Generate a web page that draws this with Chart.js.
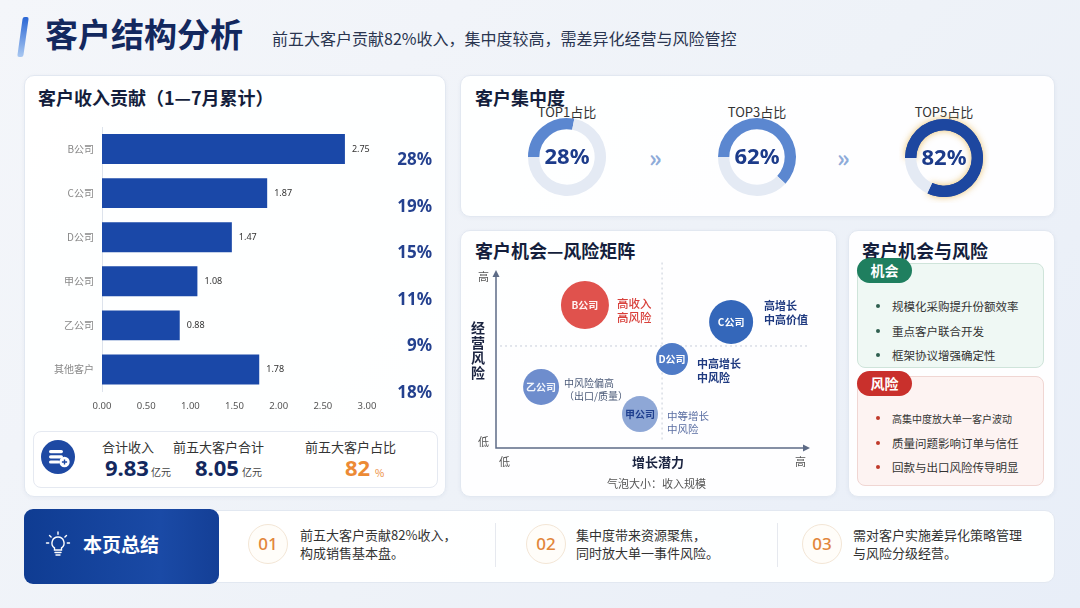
<!DOCTYPE html>
<html><head><meta charset="utf-8">
<script src="https://cdn.jsdelivr.net/npm/chart.js@4.4.0/dist/chart.umd.min.js"></script>
<style>
*{margin:0;padding:0;box-sizing:border-box}
body{width:1080px;height:608px;overflow:hidden;font-family:"Noto Sans CJK SC","Noto Sans",sans-serif;background:linear-gradient(135deg,#f4f6fa 0%,#eef2f8 55%,#e8eef8 100%);position:relative;color:#222}
.a{position:absolute;white-space:nowrap;line-height:1}
.card{position:absolute;background:rgba(255,255,255,0.93);border:1px solid #e2e8f1;border-radius:10px;box-shadow:0 1px 4px rgba(30,60,120,0.05)}
.ctitle{position:absolute;font-size:18px;font-weight:700;color:#141e3c;line-height:18px;white-space:nowrap}
canvas{position:absolute}
.lbl{position:absolute;font-size:13px;color:#333;line-height:16px;text-align:center;width:100px}
.badge{position:absolute;width:55px;height:25px;border-radius:13px;color:#fff;font-weight:700;font-size:14px;line-height:25px;text-align:center}
.item{position:absolute;left:892px;font-size:11.5px;color:#333;line-height:14px;white-space:nowrap}
.dot{position:absolute;left:876px;width:4px;height:4px;border-radius:2px}
.num{position:absolute;width:40px;height:40px;border-radius:20px;border:1px solid #f3e6d6;background:#fffdf9;color:#e2863a;font-size:17px;font-weight:500;line-height:38px;text-align:center;font-family:"Noto Sans","DejaVu Sans",sans-serif}
.sumtxt{position:absolute;font-size:13px;color:#333;line-height:18px;white-space:nowrap}
</style></head>
<body>
<div class="a" style="left:20px;top:17px;width:6px;height:40px;transform:skewX(-8deg);background:linear-gradient(180deg,#2a66d4,#a9c8f1);border-radius:2px"></div>
<div class="a" style="left:45px;top:13px;font-size:33px;font-weight:700;color:#13285e;line-height:40px">客户结构分析</div>
<div class="a" style="left:272px;top:28px;font-size:16px;color:#2a3550;line-height:20px">前五大客户贡献82%收入，集中度较高，需差异化经营与风险管控</div>

<!-- Card 1 -->
<div class="card" style="left:24px;top:75px;width:422px;height:422px"></div>
<div class="ctitle" style="left:38px;top:88px">客户收入贡献（1—7月累计）</div>
<canvas id="barChart" width="360" height="303" style="left:30px;top:113px;width:360px;height:303px"></canvas>
<div id="shareBox"></div>
<div class="a" style="left:33px;top:431px;width:405px;height:57px;border:1px solid #e5e9f1;border-radius:8px;background:#fff"></div>
<svg class="a" style="left:41px;top:440px" width="34" height="34" viewBox="0 0 34 34">
<circle cx="17" cy="17" r="17" fill="#1e49a3"/>
<rect x="8" y="10" width="14" height="3.2" rx="1.6" fill="#fff"/>
<rect x="8" y="15.2" width="14" height="3.2" rx="1.6" fill="#fff"/>
<rect x="8" y="20.4" width="11" height="3.2" rx="1.6" fill="#fff"/>
<circle cx="23.5" cy="22" r="5.2" fill="#fff"/>
<path d="M23.5 19.4v5.2M20.9 22h5.2" stroke="#1e49a3" stroke-width="1.4"/>
</svg>
<div class="a" style="left:102px;top:439px;font-size:13px;color:#333;line-height:15px">合计收入</div>
<div class="a" style="left:105px;top:455px;font-size:22px;font-weight:700;color:#13285e;line-height:24px;font-family:'Noto Sans','DejaVu Sans',sans-serif">9.83</div>
<div class="a" style="left:151px;top:466px;font-size:10px;color:#444;line-height:12px">亿元</div>
<div class="a" style="left:173px;top:439px;font-size:13px;color:#333;line-height:15px">前五大客户合计</div>
<div class="a" style="left:195px;top:455px;font-size:22px;font-weight:700;color:#13285e;line-height:24px;font-family:'Noto Sans','DejaVu Sans',sans-serif">8.05</div>
<div class="a" style="left:242px;top:466px;font-size:10px;color:#444;line-height:12px">亿元</div>
<div class="a" style="left:305px;top:439px;font-size:13px;color:#333;line-height:15px">前五大客户占比</div>
<div class="a" style="left:345px;top:455px;font-size:22px;font-weight:700;color:#ec8a35;line-height:24px;font-family:'Noto Sans','DejaVu Sans',sans-serif">82</div>
<div class="a" style="left:375px;top:467px;font-size:10px;color:#ec8a35;line-height:12px">%</div>

<!-- Card 2 -->
<div class="card" style="left:460px;top:75px;width:595px;height:142px"></div>
<div class="ctitle" style="left:475px;top:88px">客户集中度</div>
<div id="donutBox"></div>
<div class="a" style="left:649px;top:144px;font-size:24px;font-weight:700;color:#8eabd9;line-height:26px">»</div>
<div class="a" style="left:837px;top:144px;font-size:24px;font-weight:700;color:#8eabd9;line-height:26px">»</div>

<!-- Card 3 -->
<div class="card" style="left:460px;top:230px;width:377px;height:267px"></div>
<div class="ctitle" style="left:475px;top:241px">客户机会—风险矩阵</div>
<canvas id="bubbleChart" width="359" height="223" style="left:472px;top:249px;width:359px;height:223px"></canvas>
<div class="a" style="left:478px;top:271px;font-size:11px;color:#555">高</div>
<div class="a" style="left:478px;top:436px;font-size:11px;color:#555">低</div>
<div class="a" style="left:471px;top:320px;width:16px;font-size:14px;font-weight:700;color:#1a2340;line-height:15px;white-space:normal">经营风险</div>
<div class="a" style="left:499px;top:456px;font-size:11px;color:#555">低</div>
<div class="a" style="left:632px;top:455px;font-size:13px;font-weight:700;color:#1a2340">增长潜力</div>
<div class="a" style="left:795px;top:456px;font-size:11px;color:#555">高</div>
<div class="a" style="left:607px;top:478px;font-size:11px;color:#555">气泡大小：收入规模</div>
<div class="a" style="left:617px;top:296px;font-size:11.5px;color:#d8403b;line-height:14px;font-weight:500">高收入<br>高风险</div>
<div class="a" style="left:764px;top:298px;font-size:11px;color:#1f3a80;line-height:14px;font-weight:700">高增长<br>中高价值</div>
<div class="a" style="left:697px;top:356px;font-size:11px;color:#1f3a80;line-height:14px;font-weight:700">中高增长<br>中风险</div>
<div class="a" style="left:564px;top:376px;font-size:10px;color:#4b5a78;line-height:13px">中风险偏高<br>（出口/质量）</div>
<div class="a" style="left:667px;top:409px;font-size:10.5px;color:#5b6fa3;line-height:13px">中等增长<br>中风险</div>

<!-- Card 4 -->
<div class="card" style="left:848px;top:230px;width:207px;height:267px"></div>
<div class="ctitle" style="left:862px;top:241px">客户机会与风险</div>
<div class="a" style="left:857px;top:263px;width:187px;height:105px;background:#eff8f4;border:1px solid #cfe4da;border-radius:8px"></div>
<div class="badge" style="left:857px;top:258px;background:#1f7f5f">机会</div>
<div class="dot" style="top:304px;background:#2f5f4f"></div><div class="item" style="top:299px">规模化采购提升份额效率</div>
<div class="dot" style="top:329px;background:#2f5f4f"></div><div class="item" style="top:324px">重点客户联合开发</div>
<div class="dot" style="top:353px;background:#2f5f4f"></div><div class="item" style="top:348px">框架协议增强确定性</div>
<div class="a" style="left:857px;top:376px;width:187px;height:110px;background:#fdf3f2;border:1px solid #f0d6d3;border-radius:8px"></div>
<div class="badge" style="left:857px;top:371px;background:#c9302c">风险</div>
<div class="dot" style="top:416px;background:#c0392b"></div><div class="item" style="top:412px;font-size:10px">高集中度放大单一客户波动</div>
<div class="dot" style="top:441px;background:#c0392b"></div><div class="item" style="top:436px">质量问题影响订单与信任</div>
<div class="dot" style="top:465px;background:#c0392b"></div><div class="item" style="top:460px">回款与出口风险传导明显</div>

<!-- Bottom -->
<div class="a" style="left:24px;top:510px;width:1031px;height:73px;background:rgba(255,255,255,0.95);border:1px solid #e2e8f1;border-radius:10px"></div>
<div class="a" style="left:24px;top:509px;width:195px;height:75px;border-radius:9px;background:linear-gradient(90deg,#0f3c92,#1a4aa6 70%,#143f96)"></div>
<svg class="a" style="left:44px;top:530px" width="28" height="28" viewBox="0 0 28 28" fill="none" stroke="#fff" stroke-width="1.4" stroke-linecap="round">
<path d="M14 7a6 6 0 0 0-3.5 10.9V20h7v-2.1A6 6 0 0 0 14 7z"/>
<path d="M11 22.5h6M12 25h4"/>
<path d="M14 2v2.2M5.5 5.5l1.6 1.6M22.5 5.5l-1.6 1.6M2.5 13h2.2M23.3 13h2.2"/>
</svg>
<div class="a" style="left:83px;top:534px;font-size:19px;font-weight:700;color:#fff;line-height:20px">本页总结</div>
<div class="num" style="left:248px;top:524px">01</div>
<div class="sumtxt" style="left:300px;top:526px">前五大客户贡献82%收入，<br>构成销售基本盘。</div>
<div class="a" style="left:495px;top:523px;width:1px;height:44px;background:#e6e9ef"></div>
<div class="num" style="left:526px;top:524px">02</div>
<div class="sumtxt" style="left:576px;top:526px">集中度带来资源聚焦，<br>同时放大单一事件风险。</div>
<div class="a" style="left:777px;top:523px;width:1px;height:44px;background:#e6e9ef"></div>
<div class="num" style="left:802px;top:524px">03</div>
<div class="sumtxt" style="left:853px;top:526px">需对客户实施差异化策略管理<br>与风险分级经营。</div>

<script>
// ---------- data ----------
const customers = ['B公司','C公司','D公司','甲公司','乙公司','其他客户'];
const revenue = [2.75, 1.87, 1.47, 1.08, 0.88, 1.78];
const shareLabels = ['28%','19%','15%','11%','9%','18%'];
const xTickValues = [0, 0.5, 1, 1.5, 2, 2.5, 3];

const topLabels = ['TOP1占比','TOP3占比','TOP5占比'];
const topShares = [28, 62, 82];

const bubbleNames = ['B公司','C公司','D公司','乙公司','甲公司'];
const growth = [2.86, 7.56, 5.66, 1.45, 4.63];
const risk = [8.17, 7.2, 5.09, 3.49, 1.94];
const bubbleSize = [24, 22, 16, 18, 18];
const growthDivide = 5.34;
const riskDivide = 5.83;

// ---------- styles ----------
const CJK = '"Noto Sans CJK SC","Noto Sans",sans-serif';
const bubbleColors = ['#e0524d','#3467ba','#4f7bc7','#6e8dcd','#8ea7d6'];
const bubbleTextColors = ['#fff3f2','#ffffff','#ffffff','#f2f5fb','#1f3f8f'];
const donutColors = ['#5b87d0','#5b87d0','#1d47a0'];
const donutCenters = [[567,157],[757,157],[944,158]];

// share labels
const shareBox = document.getElementById('shareBox');
shareLabels.forEach((s,i)=>{
  const d = document.createElement('div');
  d.className='a';
  d.style.cssText = `left:372px;width:60px;text-align:right;top:${148 + i*46.6}px;font-size:17px;font-weight:700;color:#24418f;line-height:22px;font-family:'Noto Sans','DejaVu Sans',sans-serif`;
  d.textContent = s;
  shareBox.appendChild(d);
});

// ---------- bar chart ----------
const barValueLabels = {
  id:'barValueLabels',
  afterDatasetsDraw(chart){
    const ctx = chart.ctx, meta = chart.getDatasetMeta(0);
    ctx.save();
    ctx.font = '9px "Noto Sans","DejaVu Sans",sans-serif';
    ctx.fillStyle = '#333';
    ctx.textBaseline = 'middle';
    ctx.textAlign = 'left';
    meta.data.forEach((bar,i)=>ctx.fillText(revenue[i].toFixed(2), bar.x + 7, bar.y));
    ctx.restore();
  }
};
new Chart(document.getElementById('barChart'), {
  type:'bar',
  data:{labels:customers, datasets:[{data:revenue, backgroundColor:'#1a48a8', barPercentage:0.68, categoryPercentage:1}]},
  options:{
    indexAxis:'y', responsive:false, animation:false,
    layout:{padding:{top:0,right:23,left:0,bottom:0}},
    plugins:{legend:{display:false}, tooltip:{enabled:false}},
    scales:{
      x:{min:0,max:3, grid:{display:false,drawTicks:false}, border:{display:false},
         afterBuildTicks:s=>{s.ticks = xTickValues.map(v=>({value:v}));},
         ticks:{padding:9, color:'#555', font:{size:9.5,family:'"Noto Sans","DejaVu Sans",sans-serif'}, callback:v=>Number(v).toFixed(2)},
         afterFit:s=>{s.height = 24.5;}},
      y:{grid:{display:false,drawTicks:false}, border:{display:true,color:'#dde3ec'},
         ticks:{padding:8, color:'#888', font:{size:10,family:CJK}},
         afterFit:s=>{s.width = 72;}}
    }
  },
  plugins:[barValueLabels]
});

// ---------- donuts ----------
const donutPlugin = {
  id:'donutPlugin',
  beforeDatasetsDraw(chart, args, opts){
    if(!opts.glow) return;
    const arc = chart.getDatasetMeta(0).data[0];
    const ctx = chart.ctx;
    ctx.save();
    ctx.shadowColor = 'rgba(232,186,90,0.9)';
    ctx.shadowBlur = 7;
    ctx.fillStyle = opts.color;
    ctx.beginPath();
    ctx.arc(arc.x, arc.y, arc.outerRadius, arc.startAngle, arc.endAngle);
    ctx.arc(arc.x, arc.y, arc.innerRadius, arc.endAngle, arc.startAngle, true);
    ctx.closePath();
    ctx.fill();
    ctx.restore();
  },
  afterDatasetsDraw(chart, args, opts){
    const arc = chart.getDatasetMeta(0).data[0];
    const ctx = chart.ctx;
    ctx.save();
    ctx.font = 'bold 22px "Noto Sans","DejaVu Sans",sans-serif';
    ctx.fillStyle = '#1c3b8a';
    ctx.textAlign = 'center';
    ctx.textBaseline = 'middle';
    ctx.fillText(opts.text, arc.x, arc.y + 1);
    ctx.restore();
  }
};
const donutBox = document.getElementById('donutBox');
topShares.forEach((v,i)=>{
  const [cx,cy] = donutCenters[i];
  const lab = document.createElement('div');
  lab.className='lbl';
  lab.style.left = (cx-50)+'px'; lab.style.top = '104px';
  lab.textContent = topLabels[i];
  donutBox.appendChild(lab);
  const c = document.createElement('canvas');
  c.width = 90; c.height = 90;
  c.style.cssText = `left:${cx-45}px;top:${cy-45}px;width:90px;height:90px`;
  donutBox.appendChild(c);
  new Chart(c, {
    type:'doughnut',
    data:{labels:['占比','其他'], datasets:[{data:[v, 100-v], backgroundColor:[donutColors[i],'#e4eaf4'], borderWidth:0}]},
    options:{responsive:false, animation:false, cutout:'71%', rotation:-90,
      layout:{padding:6},
      plugins:{legend:{display:false}, tooltip:{enabled:false},
        donutPlugin:{text:v+'%', glow:i===2, color:donutColors[i]}}},
    plugins:[donutPlugin]
  });
});

// ---------- bubble matrix ----------
const matrixPlugin = {
  id:'matrixPlugin',
  beforeDatasetsDraw(chart){
    const ctx = chart.ctx, x = chart.scales.x, y = chart.scales.y;
    const x0 = x.getPixelForValue(0), x1 = x.getPixelForValue(10);
    const y0 = y.getPixelForValue(0), y1 = y.getPixelForValue(10);
    ctx.save();
    ctx.strokeStyle = '#c6cdd9'; ctx.lineWidth = 1; ctx.setLineDash([2,3]);
    const vx = x.getPixelForValue(growthDivide);
    ctx.beginPath(); ctx.moveTo(vx, y.getPixelForValue(10.6)); ctx.lineTo(vx, y.getPixelForValue(0.45)); ctx.stroke();
    const hy = y.getPixelForValue(riskDivide);
    ctx.beginPath(); ctx.moveTo(x.getPixelForValue(0.13), hy); ctx.lineTo(x1, hy); ctx.stroke();
    ctx.setLineDash([]);
    ctx.strokeStyle = '#5d6b86'; ctx.fillStyle = '#5d6b86'; ctx.lineWidth = 1.5;
    ctx.beginPath(); ctx.moveTo(x0, y1); ctx.lineTo(x0, y0); ctx.lineTo(x1, y0); ctx.stroke();
    ctx.beginPath(); ctx.moveTo(x0, y1-3); ctx.lineTo(x0-3.5, y1+4); ctx.lineTo(x0+3.5, y1+4); ctx.closePath(); ctx.fill();
    ctx.beginPath(); ctx.moveTo(x1+3, y0); ctx.lineTo(x1-4, y0-3.5); ctx.lineTo(x1-4, y0+3.5); ctx.closePath(); ctx.fill();
    ctx.restore();
  },
  afterDatasetsDraw(chart){
    const ctx = chart.ctx, meta = chart.getDatasetMeta(0);
    ctx.save();
    ctx.font = 'bold 10px ' + CJK;
    ctx.textAlign = 'center'; ctx.textBaseline = 'middle';
    meta.data.forEach((p,i)=>{ ctx.fillStyle = bubbleTextColors[i]; ctx.fillText(bubbleNames[i], p.x, p.y); });
    ctx.restore();
  }
};
new Chart(document.getElementById('bubbleChart'), {
  type:'bubble',
  data:{datasets:[{
    data: bubbleNames.map((n,i)=>({x:growth[i], y:risk[i], r:bubbleSize[i]})),
    backgroundColor: bubbleColors, borderWidth:0, clip:false
  }]},
  options:{responsive:false, animation:false,
    layout:{padding:24},
    plugins:{legend:{display:false}, tooltip:{enabled:false}},
    scales:{x:{display:false, min:0, max:10}, y:{display:false, min:0, max:10}}},
  plugins:[matrixPlugin]
});
</script>
</body></html>
